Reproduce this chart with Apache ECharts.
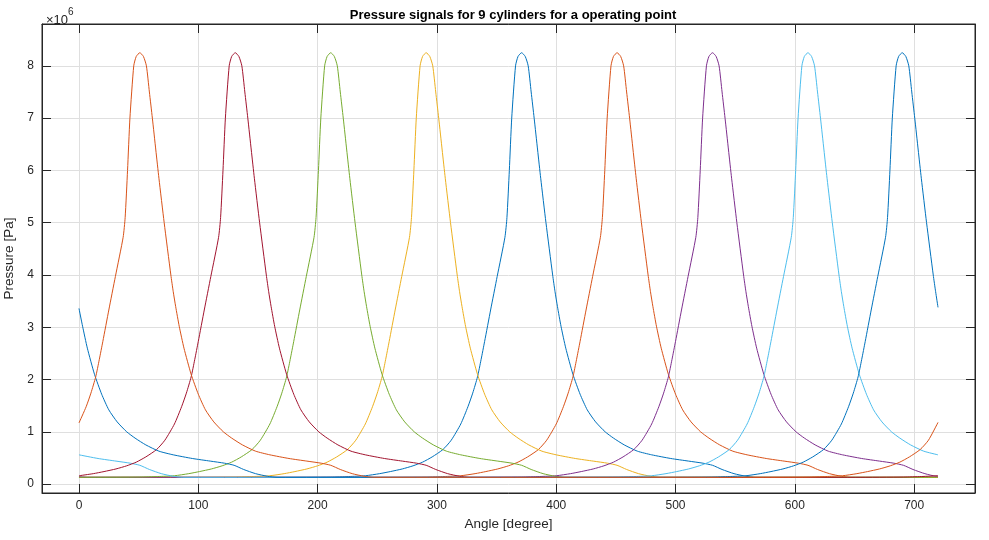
<!DOCTYPE html>
<html>
<head>
<meta charset="utf-8">
<script src="https://cdn.jsdelivr.net/npm/echarts@6/dist/echarts.min.js"></script>
<style>
html, body { margin: 0; padding: 0; background: #fff; }
#chart { width: 989px; height: 540px; }
</style>
</head>
<body>
<div id="chart"></div>
<script>
// one cylinder pressure trace: [angle offset from peak (deg), pressure (x1e6 Pa)]
var profile = [
  [-360, 0.13], [-200, 0.13], [-160, 0.135], [-145, 0.145], [-131, 0.16], [-119, 0.2],
  [-110, 0.24], [-100, 0.29], [-91, 0.35], [-83, 0.42], [-75, 0.52], [-66, 0.66],
  [-59, 0.84], [-51, 1.15], [-45, 1.48], [-41, 1.74], [-37, 2.05], [-34, 2.38],
  [-31, 2.73], [-26, 3.33], [-20.5, 3.97], [-14, 4.72], [-12.3, 5.1], [-10.3, 6.0],
  [-8.3, 7.0], [-5.1, 8.0], [-3, 8.18], [0, 8.25], [3, 8.18], [5.5, 8.0],
  [8, 7.5], [10.5, 7.0], [13.4, 6.39], [16, 5.85], [20.4, 5.0], [26, 4.0],
  [28, 3.68], [30, 3.4], [33, 3.02], [37, 2.6], [43, 2.1], [49, 1.72],
  [55, 1.42], [62, 1.19], [70, 1.0], [77, 0.88], [86, 0.75], [97, 0.63],
  [109, 0.56], [125, 0.49], [140, 0.44], [152, 0.40], [160, 0.36], [168, 0.28],
  [178, 0.2], [188, 0.15], [196, 0.13], [360, 0.13]
];

// cylinders in plotting order
var cylinderNames = ['Cyl 1', 'Cyl 2', 'Cyl 3', 'Cyl 4', 'Cyl 5', 'Cyl 6', 'Cyl 7', 'Cyl 8', 'Cyl 9'];
var peakAngles = [371, 451, 291, 531, 211, 611, 131, 690, 51];
var valuesAt0 = [0.13, 0.13, 0.13, 0.14, 0.13, 0.56, 0.16, 3.36, 1.17];
var valuesAt720 = [0.13, 0.13, 0.13, 0.15, 0.13, 0.56, 0.16, 3.38, 1.18];
var lineColors = ['#0072BD', '#D95319', '#EDB120', '#7E2F8E', '#77AC30', '#4DBEEE', '#A2142F', '#0072BD', '#D95319'];

var xTicks = [0, 100, 200, 300, 400, 500, 600, 700];
var yTicks = [0, 1, 2, 3, 4, 5, 6, 7, 8];

function cylinderData(i) {
  var pts = [[0, valuesAt0[i]], [720, valuesAt720[i]]];
  profile.forEach(function (p) {
    var a = ((peakAngles[i] + p[0]) % 720 + 720) % 720;
    if (a > 0 && a < 720) pts.push([a, p[1]]);
  });
  pts.sort(function (a, b) { return a[0] - b[0]; });
  return pts;
}

var textColor = '#262626';
var font = '"Liberation Sans", Arial, Helvetica, sans-serif';

var option = {
  animation: false,
  backgroundColor: '#fff',
  title: [
    {
      text: 'Pressure signals for 9 cylinders for a operating point',
      left: 508, top: 4, textAlign: 'center',
      textStyle: { fontFamily: font, fontSize: 13, fontWeight: 'bold', color: '#000' }
    },
    {
      text: '{a|\u00d710}{b|6}',
      left: 41, top: 2,
      textStyle: {
        fontFamily: font, fontWeight: 'normal',
        rich: {
          a: { fontFamily: font, fontSize: 13, fontWeight: 'normal', color: textColor, padding: [7, 0, 0, 0] },
          b: { fontFamily: font, fontSize: 10, fontWeight: 'normal', color: textColor, verticalAlign: 'top' }
        }
      }
    }
  ],
  grid: {
    left: 42, right: 14, top: 24, bottom: 47,
    outerBoundsMode: 'none',
    show: true, borderColor: textColor, borderWidth: 1
  },
  xAxis: [
    {
      type: 'value', min: -31, max: 751,
      name: 'Angle [degree]', nameLocation: 'middle', nameGap: 23,
      nameTextStyle: { fontFamily: font, fontSize: 13.5, color: textColor },
      axisLine: { show: true, onZero: false, lineStyle: { color: textColor, width: 1 } },
      axisTick: { show: true, inside: true, length: 9, customValues: xTicks, lineStyle: { color: textColor } },
      axisLabel: { customValues: xTicks, margin: 7, fontFamily: font, fontSize: 12, color: textColor },
      splitLine: { show: true, lineStyle: { color: '#dfdfdf', width: 1 } }
    },
    {
      type: 'value', min: -31, max: 751, position: 'top',
      axisLine: { show: true, onZero: false, lineStyle: { color: textColor, width: 1 } },
      axisTick: { show: true, inside: true, length: 9, customValues: xTicks, lineStyle: { color: textColor } },
      axisLabel: { show: false },
      splitLine: { show: false }
    }
  ],
  yAxis: [
    {
      type: 'value', min: -0.17, max: 8.8,
      name: 'Pressure [Pa]', nameLocation: 'middle', nameGap: 16, nameRotate: 90,
      nameTextStyle: { fontFamily: font, fontSize: 13.5, color: textColor },
      axisLine: { show: true, onZero: false, lineStyle: { color: textColor, width: 1 } },
      axisTick: { show: true, inside: true, length: 9, customValues: yTicks, lineStyle: { color: textColor } },
      axisLabel: { customValues: yTicks, margin: 8, fontFamily: font, fontSize: 12, color: textColor },
      splitLine: { show: true, lineStyle: { color: '#dfdfdf', width: 1 } }
    },
    {
      type: 'value', min: -0.17, max: 8.8, position: 'right',
      axisLine: { show: true, onZero: false, lineStyle: { color: textColor, width: 1 } },
      axisTick: { show: true, inside: true, length: 9, customValues: yTicks, lineStyle: { color: textColor } },
      axisLabel: { show: false },
      splitLine: { show: false }
    }
  ],
  series: cylinderNames.map(function (name, i) {
    return {
      name: name,
      type: 'line',
      xAxisIndex: 0, yAxisIndex: 0,
      data: cylinderData(i),
      showSymbol: false,
      smooth: 0.2,
      lineStyle: { color: lineColors[i], width: 1 },
      itemStyle: { color: lineColors[i] }
    };
  })
};

var myChart = echarts.init(document.getElementById('chart'));
myChart.setOption(option);
</script>
</body>
</html>
